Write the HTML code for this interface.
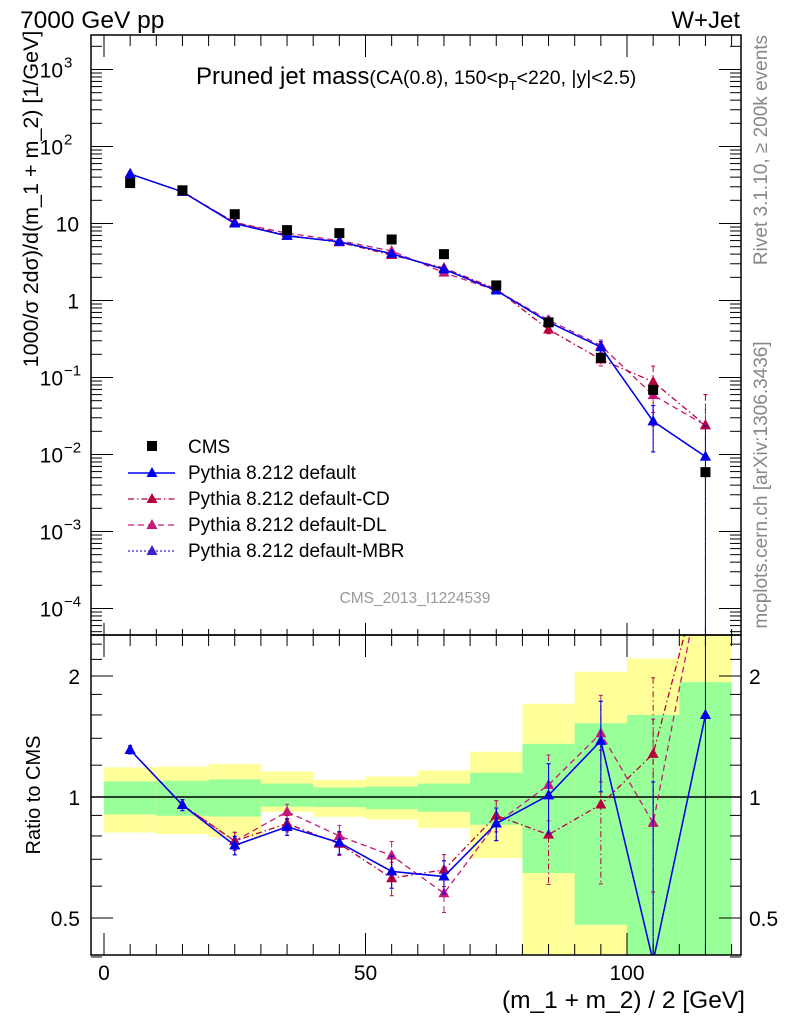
<!DOCTYPE html>
<html><head><meta charset="utf-8"><style>
html,body{margin:0;padding:0;background:#fff;width:786px;height:1024px;overflow:hidden;position:relative;}
svg{display:block;font-family:"Liberation Sans",sans-serif;}
</style></head><body>
<svg id="c" style="position:absolute;left:0;top:0" width="786" height="1024" viewBox="0 0 786 1024" xmlns="http://www.w3.org/2000/svg">
</svg>
<svg style="position:absolute;left:0;top:0" width="786" height="1024" font-family="Liberation Sans, sans-serif">
<text x="20" y="28" font-size="24.5">7000 GeV pp</text>
<text x="740" y="28" font-size="24" text-anchor="end">W+Jet</text>
<text x="196" y="84" font-size="24">Pruned jet mass<tspan font-size="19.5">(CA(0.8), 150&lt;p<tspan dy="6" font-size="13">T</tspan><tspan dy="-6">&lt;220, |y|&lt;2.5)</tspan></tspan></text>
<text transform="translate(38,199) rotate(-90)" font-size="21.5" text-anchor="middle">1000/σ 2dσ)/d(m_1 + m_2) [1/GeV]</text>
<text transform="translate(40,795) rotate(-90)" font-size="20" text-anchor="middle">Ratio to CMS</text>
<text x="745" y="1008" font-size="24.5" text-anchor="end">(m_1 + m_2) / 2 [GeV]</text>
<text transform="translate(767,150) rotate(-90)" font-size="19" fill="#888" text-anchor="middle">Rivet 3.1.10, ≥ 200k events</text>
<text transform="translate(767,485) rotate(-90)" font-size="19" fill="#888" text-anchor="middle">mcplots.cern.ch [arXiv:1306.3436]</text>
<text x="415" y="603" font-size="15.5" fill="#999" text-anchor="middle">CMS_2013_I1224539</text>
<g font-size="19">
 <rect x="147" y="441" width="10" height="10" fill="#000"/>
 <text x="188" y="453">CMS</text>
 <line x1="128" x2="175" y1="473" y2="473" stroke="#0000ee" stroke-width="1.5"/><path d="M152,467L157.5,477L146.5,477Z" fill="#0000ee"/>
 <text x="188" y="479">Pythia 8.212 default</text>
 <line x1="128" x2="175" y1="499" y2="499" stroke="#b8003c" stroke-width="1.3" stroke-dasharray="6,3,1.5,3"/><path d="M152,493L157.5,503L146.5,503Z" fill="#b8003c"/>
 <text x="188" y="505">Pythia 8.212 default-CD</text>
 <line x1="128" x2="175" y1="525" y2="525" stroke="#c21a7a" stroke-width="1.3" stroke-dasharray="6,4"/><path d="M152,519L157.5,529L146.5,529Z" fill="#c21a7a"/>
 <text x="188" y="531">Pythia 8.212 default-DL</text>
 <line x1="128" x2="175" y1="551" y2="551" stroke="#3a20c8" stroke-width="1.3" stroke-dasharray="2,2"/><path d="M152,545L157.5,555L146.5,555Z" fill="#3a20c8"/>
 <text x="188" y="557">Pythia 8.212 default-MBR</text>
</g>
</svg>
<script>
const binCenters=[5,15,25,35,45,55,65,75,85,95,105,115];
const binEdges=[0,10,20,30,40,50,60,70,80,90,100,110,120];
const cmsVals=[33.5,27,13.2,8.2,7.5,6.2,4.0,1.57,0.52,0.18,0.069,0.0059];
const defVals=[44,25.8,10,6.9,5.8,4.05,2.54,1.35,0.525,0.248,0.027,0.0094];
const cdVals=[44,25.8,10.3,7.05,5.7,3.9,2.64,1.41,0.42,0.172,0.088,0.024];
const dlVals=[44,25.8,10.3,7.5,6.0,4.4,2.3,1.35,0.557,0.26,0.059,0.024];
const mbrVals=[44,25.8,10,6.9,5.8,4.05,2.54,1.35,0.525,0.248,0.027,0.0094];
const modelErr=[0.02,0.02,0.03,0.03,0.04,0.05,0.06,0.08,0.12,0.18,0.6,1.5];
const defRatio=[1.31,0.955,0.758,0.843,0.77,0.653,0.634,0.859,1.01,1.38,0.39,1.6];
const cdRatio=[1.31,0.955,0.777,0.859,0.765,0.628,0.659,0.899,0.806,0.958,1.28,4];
const dlRatio=[1.31,0.955,0.777,0.919,0.8,0.715,0.576,0.859,1.072,1.44,0.862,4];
const mbrRatio=[1.31,0.955,0.758,0.843,0.77,0.653,0.634,0.859,1.01,1.38,0.39,1.6];
const ratioErr=[0.03,0.03,0.04,0.04,0.05,0.06,0.06,0.08,0.2,0.35,0.7,1.5];
const yellowHi=[1.185,1.19,1.208,1.158,1.103,1.125,1.165,1.296,1.706,2.05,2.21,3];
const yellowLo=[0.816,0.809,0.795,0.919,0.893,0.879,0.838,0.705,0.3,0.3,0.40,0.3];
const greenHi=[1.093,1.097,1.106,1.08,1.056,1.062,1.08,1.149,1.356,1.526,1.6,1.93];
const greenLo=[0.905,0.898,0.894,0.946,0.944,0.933,0.919,0.853,0.647,0.481,0.3,0.3];
const xTicks=[0,50,100];
const yTicks=[3,2,1,0,-1,-2,-3,-4];
const rTicks=[2,1,0.5];

const NS="http://www.w3.org/2000/svg";
const svg=document.getElementById('c');
const L=91,R=741,T=35,MB=635,RB=955;
const clampM=y=>Math.max(T,Math.min(MB,y));
const clampR=y=>Math.max(MB,Math.min(RB,y));
const X=v=>104+5.23*v;
const Y=v=>300.5-77*Math.log10(v);
const RY=v=>797-121*Math.log2(v);
function el(tag,a,parent){const e=document.createElementNS(NS,tag);for(const k in a)e.setAttribute(k,a[k]);(parent||svg).appendChild(e);return e;}
function txt(x,y,s,a){const e=el('text',Object.assign({x:x,y:y},a||{}));e.textContent=s;return e;}

const defs=el('defs',{});
const cp1=el('clipPath',{id:'cm'},defs);el('rect',{x:L,y:T,width:R-L,height:MB-T},cp1);
const cp2=el('clipPath',{id:'cr'},defs);el('rect',{x:L,y:MB,width:R-L,height:RB-MB},cp2);

const gb=el('g',{'clip-path':'url(#cr)'});


binCenters.forEach((c,i)=>{
  const x0=X(binEdges[i]),x1=X(binEdges[i+1]);
  const yt=clampR(RY(yellowHi[i])),yb=clampR(RY(yellowLo[i]));
  const y=el('rect',{x:x0,y:yt,width:x1-x0,height:yb-yt,fill:'#ffff99'},gb);
  
  
  const gt=clampR(RY(greenHi[i])),gbt=clampR(RY(greenLo[i]));
  const g=el('rect',{x:x0,y:gt,width:x1-x0,height:gbt-gt,fill:'#99ff99'},gb);
  
  
});
el('line',{x1:L,x2:R,y1:RY(1),y2:RY(1),stroke:'#000','stroke-width':1.5});

const series=[
 {name:'mbr',vals:mbrVals,ratio:mbrRatio,color:'#3a20c8',dash:'2,2',w:1.3},
 {name:'dl',vals:dlVals,ratio:dlRatio,color:'#c21a7a',dash:'6,4',w:1.3},
 {name:'cd',vals:cdVals,ratio:cdRatio,color:'#b8003c',dash:'6,3,1.5,3',w:1.3},
 {name:'default',vals:defVals,ratio:defRatio,color:'#0000ee',dash:'',w:1.5}
];
function tri(g,x,y,c){return el('path',{d:`M${x},${y-6}L${x+5.5},${y+4}L${x-5.5},${y+4}Z`,fill:c},g);}
function errbar(g,x,y1,y2,c,dash){
  el('line',{x1:x,x2:x,y1:y1,y2:y2,stroke:c,'stroke-width':1,'stroke-dasharray':dash},g);
  el('line',{x1:x-2,x2:x+2,y1:y1,y2:y1,stroke:c,'stroke-width':1},g);
  el('line',{x1:x-2,x2:x+2,y1:y2,y2:y2,stroke:c,'stroke-width':1},g);
}
series.forEach(s=>{
  const gm=el('g',{'clip-path':'url(#cm)'});
  
  
  el('polyline',{points:binCenters.map((c,i)=>X(c)+','+clampM(Y(s.vals[i]))).join(' '),fill:'none',stroke:s.color,'stroke-width':s.w,'stroke-dasharray':s.dash},gm);
  binCenters.forEach((c,i)=>{
    const v=s.vals[i],e=modelErr[i];
    errbar(gm,X(c),clampM(Y(v*(1+e))),clampM(Y(Math.max(v*(1-e),1e-6))),s.color,s.dash);
    const m=tri(gm,X(c),clampM(Y(v)),s.color);
    
    
  });
  const gr=el('g',{'clip-path':'url(#cr)'});
  
  
  const pts=binCenters.map((c,i)=>[X(c),RY(s.ratio[i])]);
  el('polyline',{points:pts.map(p=>p[0]+','+p[1]).join(' '),fill:'none',stroke:s.color,'stroke-width':s.w,'stroke-dasharray':s.dash},gr);
  binCenters.forEach((c,i)=>{
    const v=s.ratio[i],e=ratioErr[i];
    if(RY(v)<MB-10||RY(v)>RB+10)return;
    errbar(gr,X(c),clampR(RY(v+e)),clampR(RY(Math.max(v-e,0.05))),s.color,s.dash);
    const m=tri(gr,X(c),RY(v),s.color);
    
    
  });
});
const gc=el('g',{'clip-path':'url(#cm)'});


binCenters.forEach((c,i)=>{
  const m=el('rect',{x:X(c)-5,y:Y(cmsVals[i])-5,width:10,height:10,fill:'#000'},gc);
  
  
});

el('rect',{x:L,y:T,width:R-L,height:MB-T,fill:'none',stroke:'#000','stroke-width':1.5});
el('rect',{x:L,y:MB,width:R-L,height:RB-MB,fill:'none',stroke:'#000','stroke-width':1.5});
for(let v=0;v<=120;v+=5){
  const major=v%50===0, len=major?22:11;
  [[T,1,1],[MB,-1,0.55],[MB,1,1],[RB,-1,1]].forEach(([y,d,f])=>el('line',{x1:X(v),x2:X(v),y1:y,y2:y+d*len*f,stroke:'#000','stroke-width':1}));
}
xTicks.forEach(v=>{
  const t=txt(X(v),980,String(v),{'font-size':21,'text-anchor':'middle'});
  
  
});
for(let d=-5;d<=3;d++){for(let k=1;k<10;k++){const v=k*Math.pow(10,d);const y=Y(v);if(y<T||y>MB)continue;
  const len=k===1?22:11;el('line',{x1:L,x2:L+len,y1:y,y2:y,stroke:'#000'});el('line',{x1:R,x2:R-len,y1:y,y2:y,stroke:'#000'});}}
yTicks.forEach(p=>{
  const y=Y(Math.pow(10,p));
  let t;
  if(p===0||p===1){t=txt(79,y+8,p===0?'1':'10',{'font-size':21,'text-anchor':'end'});}
  else{t=txt(63,y+8,'10',{'font-size':21,'text-anchor':'end'});const s=el('tspan',{x:64,dy:-10,'font-size':15,'text-anchor':'start'},t);s.textContent=(p<0?'\u2212':'')+Math.abs(p);}
  
  
});
[0.4,0.5,0.6,0.7,0.8,0.9,1,1.2,1.4,1.6,1.8,2,2.2,2.4].forEach(v=>{const y=RY(v);const len=(v===0.5||v===1||v===2)?22:11;
  el('line',{x1:L,x2:L+len,y1:y,y2:y,stroke:'#000'});el('line',{x1:R,x2:R-len,y1:y,y2:y,stroke:'#000'});});
rTicks.forEach(v=>{
  const a=txt(80,RY(v)+8,String(v),{'font-size':21,'text-anchor':'end'});
  
  
  const b=txt(749,RY(v)+8,String(v),{'font-size':21});
  
  
});
</script>
</body></html>
